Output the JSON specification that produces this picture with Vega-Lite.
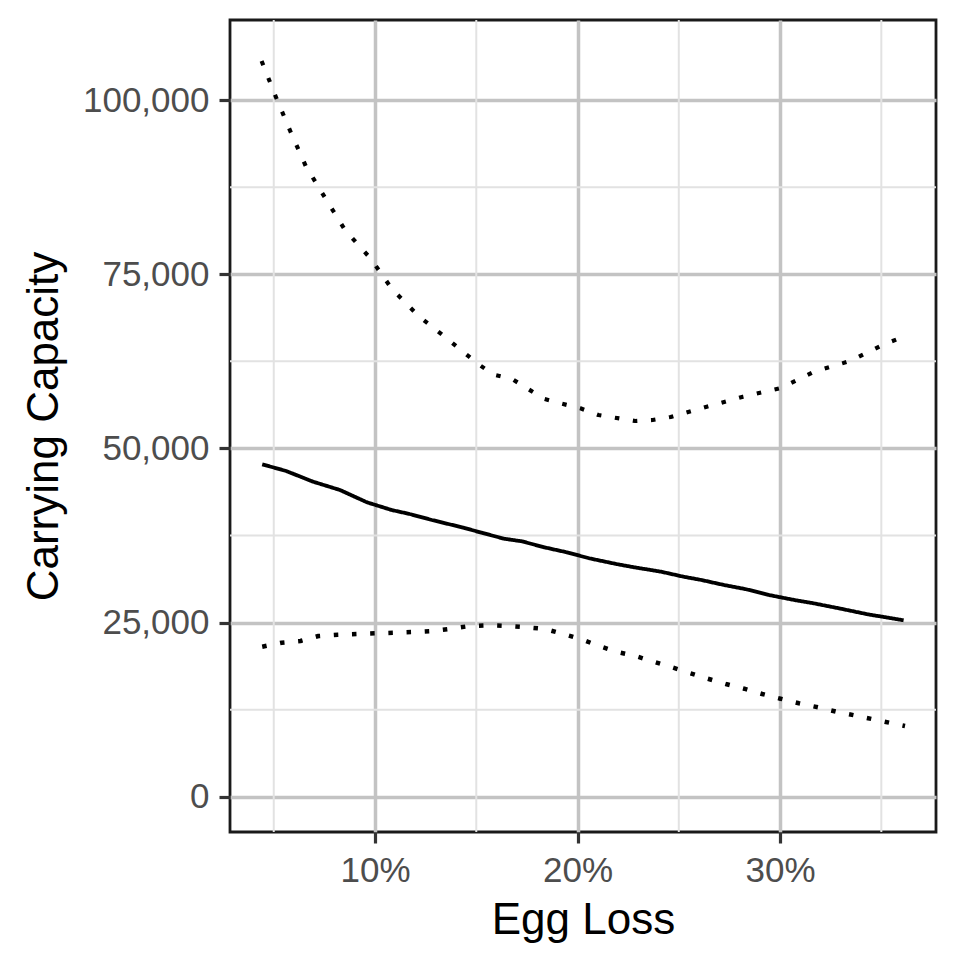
{
  "$schema": "https://vega.github.io/schema/vega-lite/v6.json",
  "width": 706,
  "height": 812,
  "autosize": "none",
  "padding": {"left": 230, "top": 20, "right": 24, "bottom": 128},
  "background": "white",
  "config": {
    "view": {"stroke": "#1A1A1A", "strokeWidth": 2.8},
    "font": "Liberation Sans",
    "axis": {
      "domain": false,
      "grid": true,
      "gridColor": "#C3C3C3",
      "gridWidth": 3.5,
      "tickColor": "#333333",
      "tickWidth": 3.2,
      "tickSize": 11,
      "labelFont": "Liberation Sans",
      "labelFontSize": 35,
      "labelColor": "#4D4D4D",
      "titleFont": "Liberation Sans",
      "titleFontSize": 44,
      "titleFontWeight": "normal",
      "titleColor": "black"
    }
  },
  "datasets": {
    "curves": [
      {"series": "upper", "loss": 0.0440, "capacity": 105594},
      {"series": "upper", "loss": 0.0510, "capacity": 100472},
      {"series": "upper", "loss": 0.0582, "capacity": 95508},
      {"series": "upper", "loss": 0.0658, "capacity": 90530},
      {"series": "upper", "loss": 0.0755, "capacity": 85896},
      {"series": "upper", "loss": 0.0853, "capacity": 81304},
      {"series": "upper", "loss": 0.0979, "capacity": 77230},
      {"series": "upper", "loss": 0.1085, "capacity": 72840},
      {"series": "upper", "loss": 0.1217, "capacity": 68966},
      {"series": "upper", "loss": 0.1364, "capacity": 65566},
      {"series": "upper", "loss": 0.1509, "capacity": 62123},
      {"series": "upper", "loss": 0.1586, "capacity": 60588},
      {"series": "upper", "loss": 0.1677, "capacity": 59970},
      {"series": "upper", "loss": 0.1756, "capacity": 58536},
      {"series": "upper", "loss": 0.1833, "capacity": 57144},
      {"series": "upper", "loss": 0.1923, "capacity": 56427},
      {"series": "upper", "loss": 0.2014, "capacity": 55767},
      {"series": "upper", "loss": 0.2103, "capacity": 54805},
      {"series": "upper", "loss": 0.2285, "capacity": 53944},
      {"series": "upper", "loss": 0.2371, "capacity": 54087},
      {"series": "upper", "loss": 0.2460, "capacity": 54517},
      {"series": "upper", "loss": 0.2638, "capacity": 55995},
      {"series": "upper", "loss": 0.2817, "capacity": 57430},
      {"series": "upper", "loss": 0.3000, "capacity": 58635},
      {"series": "upper", "loss": 0.3168, "capacity": 61017},
      {"series": "upper", "loss": 0.3346, "capacity": 62552},
      {"series": "upper", "loss": 0.3510, "capacity": 64907},
      {"series": "upper", "loss": 0.3617, "capacity": 66100},
      {"series": "mean", "loss": 0.0443, "capacity": 47732},
      {"series": "mean", "loss": 0.0561, "capacity": 46774},
      {"series": "mean", "loss": 0.0694, "capacity": 45239},
      {"series": "mean", "loss": 0.0827, "capacity": 44045},
      {"series": "mean", "loss": 0.0960, "capacity": 42281},
      {"series": "mean", "loss": 0.1082, "capacity": 41176},
      {"series": "mean", "loss": 0.1171, "capacity": 40603},
      {"series": "mean", "loss": 0.1281, "capacity": 39742},
      {"series": "mean", "loss": 0.1437, "capacity": 38637},
      {"series": "mean", "loss": 0.1526, "capacity": 37920},
      {"series": "mean", "loss": 0.1637, "capacity": 37058},
      {"series": "mean", "loss": 0.1725, "capacity": 36685},
      {"series": "mean", "loss": 0.1836, "capacity": 35824},
      {"series": "mean", "loss": 0.1947, "capacity": 35107},
      {"series": "mean", "loss": 0.2058, "capacity": 34246},
      {"series": "mean", "loss": 0.2191, "capacity": 33429},
      {"series": "mean", "loss": 0.2280, "capacity": 32955},
      {"series": "mean", "loss": 0.2413, "capacity": 32324},
      {"series": "mean", "loss": 0.2523, "capacity": 31607},
      {"series": "mean", "loss": 0.2612, "capacity": 31133},
      {"series": "mean", "loss": 0.2723, "capacity": 30416},
      {"series": "mean", "loss": 0.2834, "capacity": 29799},
      {"series": "mean", "loss": 0.2945, "capacity": 28981},
      {"series": "mean", "loss": 0.3078, "capacity": 28221},
      {"series": "mean", "loss": 0.3166, "capacity": 27790},
      {"series": "mean", "loss": 0.3300, "capacity": 27015},
      {"series": "mean", "loss": 0.3433, "capacity": 26212},
      {"series": "mean", "loss": 0.3610, "capacity": 25351},
      {"series": "lower", "loss": 0.0443, "capacity": 21564},
      {"series": "lower", "loss": 0.0539, "capacity": 22138},
      {"series": "lower", "loss": 0.0632, "capacity": 22381},
      {"series": "lower", "loss": 0.0721, "capacity": 23099},
      {"series": "lower", "loss": 0.0816, "capacity": 23285},
      {"series": "lower", "loss": 0.0912, "capacity": 23386},
      {"series": "lower", "loss": 0.1004, "capacity": 23486},
      {"series": "lower", "loss": 0.1098, "capacity": 23572},
      {"series": "lower", "loss": 0.1191, "capacity": 23673},
      {"series": "lower", "loss": 0.1284, "capacity": 23816},
      {"series": "lower", "loss": 0.1375, "capacity": 24146},
      {"series": "lower", "loss": 0.1468, "capacity": 24533},
      {"series": "lower", "loss": 0.1561, "capacity": 24634},
      {"series": "lower", "loss": 0.1654, "capacity": 24533},
      {"series": "lower", "loss": 0.1748, "capacity": 24347},
      {"series": "lower", "loss": 0.1840, "capacity": 24103},
      {"series": "lower", "loss": 0.1929, "capacity": 23386},
      {"series": "lower", "loss": 0.2018, "capacity": 22625},
      {"series": "lower", "loss": 0.2107, "capacity": 21664},
      {"series": "lower", "loss": 0.2196, "capacity": 20803},
      {"series": "lower", "loss": 0.2286, "capacity": 20229},
      {"series": "lower", "loss": 0.2375, "capacity": 19411},
      {"series": "lower", "loss": 0.2466, "capacity": 18608},
      {"series": "lower", "loss": 0.2553, "capacity": 17790},
      {"series": "lower", "loss": 0.2643, "capacity": 16973},
      {"series": "lower", "loss": 0.2732, "capacity": 16212},
      {"series": "lower", "loss": 0.2823, "capacity": 15538},
      {"series": "lower", "loss": 0.2912, "capacity": 14777},
      {"series": "lower", "loss": 0.3002, "capacity": 14103},
      {"series": "lower", "loss": 0.3093, "capacity": 13443},
      {"series": "lower", "loss": 0.3187, "capacity": 12869},
      {"series": "lower", "loss": 0.3278, "capacity": 12238},
      {"series": "lower", "loss": 0.3366, "capacity": 11721},
      {"series": "lower", "loss": 0.3459, "capacity": 11148},
      {"series": "lower", "loss": 0.3553, "capacity": 10574},
      {"series": "lower", "loss": 0.3617, "capacity": 10186}
    ],
    "xminor": [{"loss": 0.05}, {"loss": 0.15}, {"loss": 0.25}, {"loss": 0.35}],
    "yminor": [{"capacity": 12500}, {"capacity": 37500}, {"capacity": 62500}, {"capacity": 87500}]
  },
  "layer": [
    {
      "data": {"name": "xminor"},
      "mark": {"type": "rule", "color": "#E2E2E2", "strokeWidth": 2},
      "encoding": {
        "x": {"field": "loss", "type": "quantitative", "scale": {"domain": [0.0284, 0.377], "nice": false, "zero": false}}
      }
    },
    {
      "data": {"name": "yminor"},
      "mark": {"type": "rule", "color": "#E2E2E2", "strokeWidth": 2},
      "encoding": {
        "y": {"field": "capacity", "type": "quantitative", "scale": {"domain": [-5022, 111478], "nice": false, "zero": false}}
      }
    },
    {
      "data": {"name": "curves"},
      "mark": {"type": "line", "color": "black", "strokeCap": "butt", "strokeJoin": "round"},
      "encoding": {
        "x": {
          "field": "loss", "type": "quantitative",
          "scale": {"domain": [0.0284, 0.377], "nice": false, "zero": false},
          "axis": {"title": "Egg Loss", "values": [0.1, 0.2, 0.3], "format": ".0%", "labelPadding": 10, "titlePadding": 10}
        },
        "y": {
          "field": "capacity", "type": "quantitative",
          "scale": {"domain": [-5022, 111478], "nice": false, "zero": false},
          "axis": {"title": "Carrying Capacity", "values": [0, 25000, 50000, 75000, 100000], "format": ",.0f", "labelPadding": 10, "titlePadding": 16}
        },
        "detail": {"field": "series", "type": "nominal"},
        "strokeDash": {
          "field": "series", "type": "nominal",
          "scale": {"domain": ["mean", "upper", "lower"], "range": [[1, 0], [4.5, 13.7], [4.5, 13.7]]},
          "legend": null
        },
        "strokeWidth": {
          "field": "series", "type": "nominal",
          "scale": {"domain": ["mean", "upper", "lower"], "range": [3.8, 4.5, 4.5]},
          "legend": null
        }
      }
    }
  ]
}
